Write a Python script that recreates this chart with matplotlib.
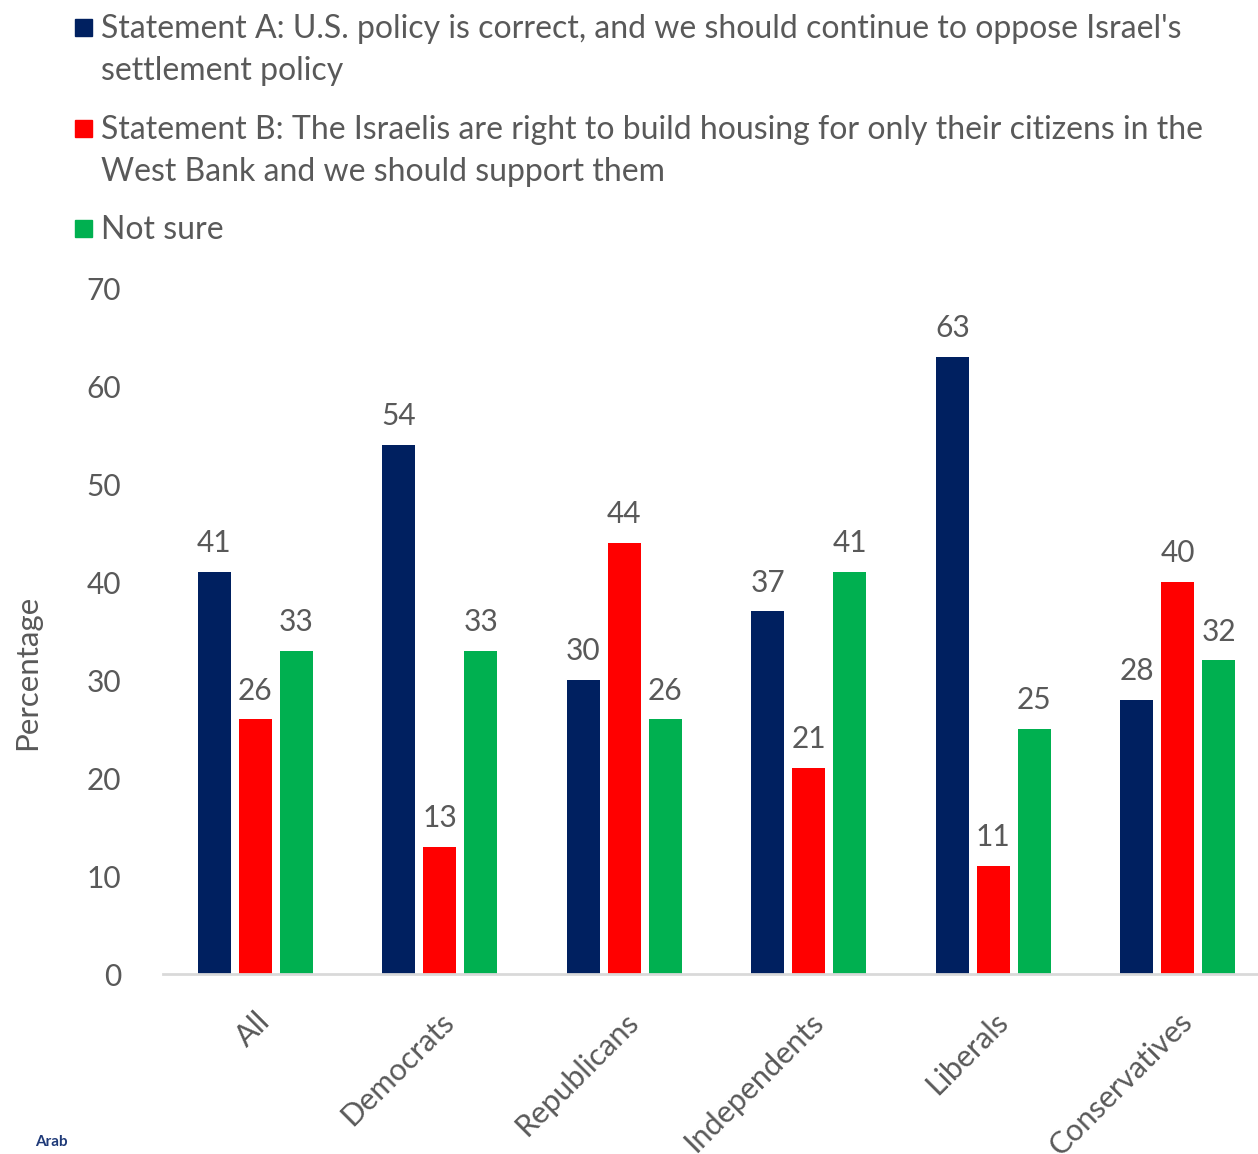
import numpy as np
import matplotlib.pyplot as plt
from matplotlib.patches import Rectangle

plt.rcParams['font.family'] = ['Lato', 'DejaVu Sans']

categorias = ['All', 'Democrats', 'Republicans', 'Independents', 'Liberals', 'Conservatives']
statement_a = [41, 54, 30, 37, 63, 28]
statement_b = [26, 13, 44, 21, 11, 40]
not_sure = [33, 33, 26, 41, 25, 32]

series = [statement_a, statement_b, not_sure]
colores = ['#002060', '#FF0000', '#00B050']
etiquetas = ["Statement A: U.S. policy is correct, and we should continue to oppose Israel's\nsettlement policy",
             "Statement B: The Israelis are right to build housing for only their citizens in the\nWest Bank and we should support them",
             "Not sure"]
gris = '#595959'

fig = plt.figure(figsize=(12.58, 11.54), dpi=100)
ax = fig.add_axes([163 / 1258, 1 - 974 / 1154, 1 - 163 / 1258, (974 - 288) / 1154])

x = np.arange(len(categorias))
ancho = 0.179
paso = 0.222
for i, (vals, col) in enumerate(zip(series, colores)):
    pos = x + (i - 1) * paso
    barras = ax.bar(pos, vals, width=ancho, color=col)
    for b, v in zip(barras, vals):
        ax.text(b.get_x() + b.get_width() / 2, v + 1.5, str(v), ha='center', va='bottom',
                fontsize=21.5, color=gris)

ax.set_xlim(-0.5, 5.435)
ax.set_ylim(0, 70)
ax.set_yticks(range(0, 71, 10))
ax.tick_params(axis='y', length=0, labelsize=21.5, labelcolor=gris, pad=30)
ax.set_xticks(x)
ax.set_xticklabels(categorias, rotation=45, ha='right', va='top', rotation_mode='anchor',
                   fontsize=22, color=gris)
ax.tick_params(axis='x', length=0, pad=24)
for s in ['top', 'right', 'left']:
    ax.spines[s].set_visible(False)
ax.spines['bottom'].set_color('#d9d9d9')
ax.spines['bottom'].set_linewidth(2)
ax.set_ylabel('Percentage', fontsize=22.5, color=gris)
ax.yaxis.set_label_coords(-0.111, 0.44)

# leyenda manual
y_lineas = [27, 128, 228]
for yl, col, txt in zip(y_lineas, colores, etiquetas):
    fig.patches.append(Rectangle((75 / 1258, 1 - (yl + 9) / 1154), 17 / 1258, 17 / 1154,
                                 transform=fig.transFigure, color=col))
    fig.text(101 / 1258, 1 - (yl - 13) / 1154, txt, ha='left', va='top', fontsize=23,
             color=gris, linespacing=1.5)

# logo recortado
fig.text(35 / 1258, 1 - 1142 / 1154, 'Arab', fontsize=11, color='#1f3a78',
         fontweight='bold', ha='left', va='center')

plt.savefig('out.png', dpi=100)
